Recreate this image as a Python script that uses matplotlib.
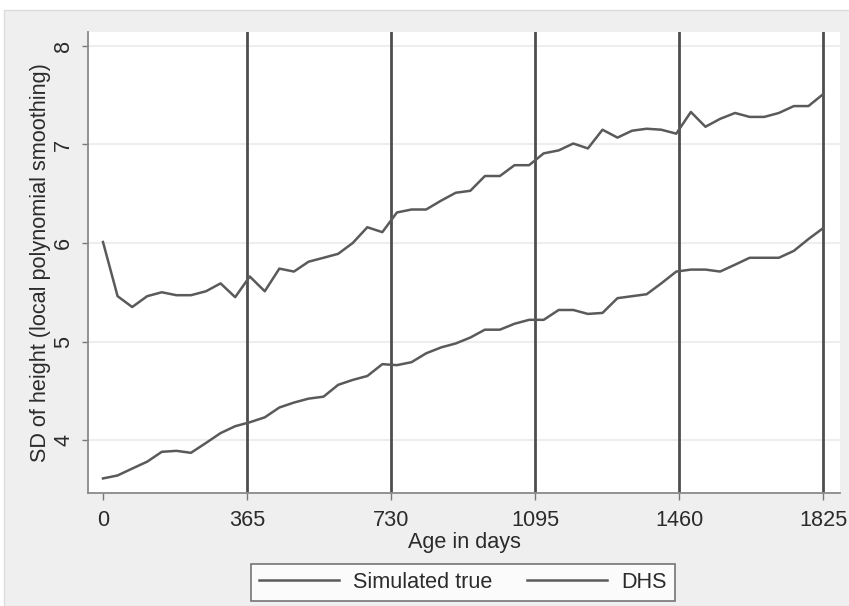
import matplotlib
matplotlib.use("Agg")
import matplotlib.pyplot as plt
from matplotlib.patches import Rectangle

plt.rcParams["font.family"] = ["Liberation Sans", "DejaVu Sans"]

# Age (days) at which each smoothed value was evaluated
ages = [0, 37, 74, 112, 149, 186, 223, 261, 298, 335,
        372, 410, 447, 484, 521, 559, 596, 633, 670, 708,
        745, 782, 819, 857, 894, 931, 968, 1006, 1043, 1080,
        1117, 1155, 1192, 1229, 1266, 1304, 1341, 1378, 1415, 1453,
        1490, 1527, 1564, 1602, 1639, 1676, 1713, 1751, 1788, 1825]

sd_simulated = [3.61, 3.64, 3.71, 3.78, 3.88, 3.89, 3.87, 3.97, 4.07, 4.14,
                4.18, 4.23, 4.33, 4.38, 4.42, 4.44, 4.56, 4.61, 4.65, 4.77,
                4.76, 4.79, 4.88, 4.94, 4.98, 5.04, 5.12, 5.12, 5.18, 5.22,
                5.22, 5.32, 5.32, 5.28, 5.29, 5.44, 5.46, 5.48, 5.59, 5.71,
                5.73, 5.73, 5.71, 5.78, 5.85, 5.85, 5.85, 5.92, 6.04, 6.15]

sd_dhs = [6.01, 5.46, 5.35, 5.46, 5.50, 5.47, 5.47, 5.51, 5.59, 5.45,
          5.66, 5.51, 5.74, 5.71, 5.81, 5.85, 5.89, 6.00, 6.16, 6.11,
          6.31, 6.34, 6.34, 6.43, 6.51, 6.53, 6.68, 6.68, 6.79, 6.79,
          6.91, 6.94, 7.01, 6.96, 7.15, 7.07, 7.14, 7.16, 7.15, 7.11,
          7.33, 7.18, 7.26, 7.32, 7.28, 7.28, 7.32, 7.39, 7.39, 7.51]

year_marks = [365, 730, 1095, 1460, 1825]
x_ticks = [0, 365, 730, 1095, 1460, 1825]
y_ticks = [4, 5, 6, 7, 8]

FS = 15.6
LINE = "#5a5a5a"

fig = plt.figure(figsize=(8.49, 6.06), dpi=100, facecolor="white")
# grey graph region (the screenshot keeps a thin white strip top and left)
fig.patches.append(
    Rectangle((4 / 849, 0), 1, 1 - 10 / 606, transform=fig.transFigure,
              facecolor="#efefef", edgecolor="#dcdcdc", linewidth=1, zorder=-10)
)

ax = fig.add_axes([88 / 849, 1 - 493 / 606, (840 - 88) / 849, (493 - 32) / 606])
ax.set_zorder(2)
ax.set_facecolor("white")

for d in year_marks:
    ax.axvline(d, color="#4e4e4e", linewidth=2.0, zorder=2)

ax.plot(ages, sd_simulated, color=LINE, linewidth=1.8, label="Simulated true", zorder=3)
ax.plot(ages, sd_dhs, color=LINE, linewidth=1.8, label="DHS", zorder=3)

ax.set_xlim(-38, 1868)
ax.set_ylim(3.462, 8.142)
ax.set_xticks(x_ticks)
ax.set_yticks(y_ticks)

ax.grid(axis="y", color="#eeeeee", linewidth=1.5, zorder=0)
ax.set_axisbelow(True)

for side in ["top", "right"]:
    ax.spines[side].set_visible(False)
for side in ["left", "bottom"]:
    ax.spines[side].set_color("#8a8a8a")
    ax.spines[side].set_linewidth(1.3)

ax.tick_params(axis="x", length=5, width=1, color="#777777", pad=7,
               labelsize=FS, labelcolor="#2b2b2b")
ax.tick_params(axis="y", length=4, width=1, color="#777777", pad=6,
               labelsize=FS, labelcolor="#2b2b2b", labelrotation=90)
for lab in ax.get_yticklabels():
    lab.set_va("center")

ax.set_xlabel("Age in days", fontsize=FS, color="#2b2b2b", labelpad=1)
ax.set_ylabel("SD of height (local polynomial smoothing)", fontsize=FS,
              color="#2b2b2b")
ax.yaxis.set_label_coords(-0.049, 0.5)

leg = fig.legend(
    loc="center",
    bbox_to_anchor=(463 / 849, 1 - 582.5 / 606),
    ncol=2,
    fontsize=FS,
    frameon=True,
    fancybox=False,
    handlelength=3.7,
    handletextpad=0.65,
    columnspacing=1.6,
    borderpad=0.35,
)
leg.get_frame().set_edgecolor("#555555")
leg.get_frame().set_linewidth(1.2)
leg.get_frame().set_facecolor("white")
for t in leg.get_texts():
    t.set_color("#2b2b2b")

fig.savefig("out.png", dpi=100, facecolor=fig.get_facecolor())
